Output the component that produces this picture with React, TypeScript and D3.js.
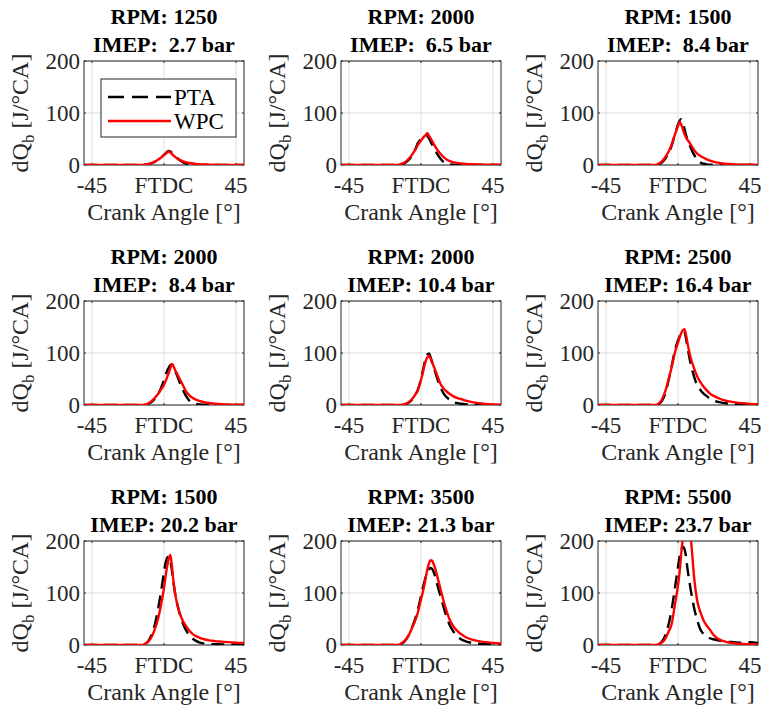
import React from "react";
import * as d3 from "d3";

// Crank angle grid shared by every trace [deg aTDC]
const CA = [-50, -40, -30, -20, -16, -14, -12, -10, -8, -6, -4, -2, 0, 1, 2, 3, 4, 5, 6, 7, 8, 9, 10, 12, 14, 16, 18, 20, 22, 25, 28, 32, 36, 40, 45, 50];

// Operating points
const RPM = [1250, 2000, 1500, 2000, 2000, 2500, 1500, 3500, 5500];
const IMEP = [2.7, 6.5, 8.4, 8.4, 10.4, 16.4, 20.2, 21.3, 23.7];

// Apparent heat release rate dQb [J/°CA], PTA (pressure trace analysis)
const PTA_1 = [0, 0, 0, 0, 0, 0, 0.5, 1.5, 3.2, 5.8, 9.5, 14, 19.5, 22.5, 25.5, 27, 26, 23.5, 20.5, 17.5, 14.5, 11.5, 9, 5, 2.5, 1.2, 0.6, 0.3, 0.2, 0.1, 0.1, 0.1, 0.1, 0.1, 0.1, 0.1];
const PTA_2 = [0, 0, 0, 0, 0, 0, 1.5, 4, 9, 16, 27, 42, 50, 54, 57, 58, 56, 51, 45, 39, 33, 27, 22, 13, 6, 2.5, 1, 0.5, 0.3, 0.2, 0.2, 0.2, 0.1, 0.1, 0.1, 0.1];
const PTA_3 = [0, 0, 0, 0, 0, 0, 1.5, 5, 12, 22, 37, 58, 78, 85, 88, 82, 70, 58, 48, 40, 33, 26, 20, 11, 5, 2.5, 1.2, 0.6, 0.4, 0.3, 0.2, 0.2, 0.1, 0.1, 0.1, 0.1];
const PTA_4 = [0, 0, 0, 0, 0, 0, 0, 2, 5, 11, 19, 32, 48, 58, 66, 72, 77, 78, 73, 66, 58, 50, 42, 28, 16, 8, 4, 2, 1, 0.6, 0.4, 0.3, 0.2, 0.2, 0.1, 0.1];
const PTA_5 = [0, 0, 0, 0, 0, 0, 0, 1.5, 4, 9, 17, 29, 50, 64, 78, 90, 97, 99, 92, 82, 72, 62, 52, 35, 23, 15, 10, 6, 4, 2.5, 1.5, 1, 0.7, 0.5, 0.3, 0.2];
const PTA_6 = [0, 0, 0, 0, 0, 0, 2, 8, 22, 46, 74, 104, 124, 132, 138, 142, 141, 128, 110, 93, 78, 66, 55, 38, 29, 22, 17, 12, 9, 6, 4, 2.8, 2, 1.5, 1.1, 0.8];
const PTA_7 = [0, 0, 0, 0, 0, 0, 2, 7, 18, 36, 64, 100, 140, 158, 168, 170, 162, 142, 118, 98, 82, 70, 58, 40, 27, 18, 12, 8, 5, 3, 2, 1.5, 1.2, 1, 0.8, 0.6];
const PTA_8 = [0, 0, 0, 0, 0, 0.3, 3, 8, 17, 31, 47, 68, 94, 108, 120, 132, 141, 146, 148, 146, 140, 130, 118, 96, 74, 54, 38, 27, 19, 11, 7, 4, 2.5, 1.8, 1.3, 1];
const PTA_9 = [0, 0, 0, 0, 0, 0, 2, 7, 18, 38, 68, 108, 150, 170, 184, 189, 185, 170, 145, 125, 105, 88, 72, 48, 30, 21, 16, 13, 11, 9, 7, 6, 5, 4.5, 5.5, 4];

// Apparent heat release rate dQb [J/°CA], WPC
const WPC_1 = [0, 0, 0, 0, 0, 0.3, 0.8, 1.8, 3.5, 6, 9.5, 14, 19, 21.5, 24, 26, 24, 21, 18, 15.5, 13, 11, 9.5, 7, 5, 3.8, 2.8, 2.1, 1.6, 1.1, 0.8, 0.5, 0.3, 0.2, 0.1, 0.1];
const WPC_2 = [0, 0, 0, 0, 0, 0.5, 2.5, 5.5, 11, 18, 27, 38, 47, 51, 55, 58, 61, 56, 51, 46, 40, 35, 30, 22, 15.5, 10.5, 7.5, 5.5, 4.2, 3, 2.2, 1.5, 1, 0.7, 0.5, 0.3];
const WPC_3 = [0, 0, 0, 0, 0, 0, 2.5, 7, 15, 25, 39, 58, 75, 83, 78, 69, 60, 53, 48, 44, 39, 34, 29, 22, 17.5, 14, 11, 8.5, 6.5, 4.5, 3, 2, 1.3, 0.8, 0.5, 0.3];
const WPC_4 = [0, 0, 0, 0, 0, 0, 0.5, 3, 7, 13, 20, 29, 39, 46, 54, 62, 71, 79, 74, 67, 61, 55, 49, 37, 25, 18, 13.5, 10.5, 8, 5.5, 3.8, 2.5, 1.6, 1, 0.6, 0.4];
const WPC_5 = [0, 0, 0, 0, 0, 0, 0, 2, 5, 10, 18, 29, 48, 60, 74, 85, 92, 95, 89, 81, 74, 66, 58, 42, 32, 26, 21, 17, 14, 11.5, 8.5, 5.5, 3.5, 2.2, 1.3, 0.8];
const WPC_6 = [0, 0, 0, 0, 0, 0, 3, 11, 26, 48, 72, 100, 120, 130, 138, 144, 146, 135, 118, 103, 90, 80, 71, 55, 44, 35, 28, 22, 18, 13.5, 10, 7, 5, 3.5, 2.2, 1.5];
const WPC_7 = [0, 0, 0, 0, 0, 0, 2, 6, 14, 28, 47, 75, 110, 132, 152, 166, 173, 150, 120, 98, 82, 70, 60, 45, 35, 27, 21, 17, 14, 11, 9, 7.5, 6.5, 5.5, 4.5, 4];
const WPC_8 = [0, 0, 0, 0, 0, 0.5, 4, 9, 17, 30, 44, 62, 88, 100, 114, 130, 146, 157, 163, 162, 155, 146, 134, 110, 86, 65, 48, 37, 29, 21, 15, 10.5, 7.5, 5.5, 4, 3];
const WPC_9 = [0, 0, 0, 0, 0, 0, 1, 5, 12, 25, 40, 76, 115, 140, 175, 205, 228, 235, 230, 222, 205, 170, 132, 85, 63, 47, 37, 29, 20, 12, 8, 4.5, 3, 2, 1.5, 1];

const PTA = [PTA_1, PTA_2, PTA_3, PTA_4, PTA_5, PTA_6, PTA_7, PTA_8, PTA_9];
const WPC = [WPC_1, WPC_2, WPC_3, WPC_4, WPC_5, WPC_6, WPC_7, WPC_8, WPC_9];

const SERIES = ["PTA", "WPC"];
const X_TICKS = [-45, 0, 45];
const X_TICK_LABELS = ["-45", "FTDC", "45"];
const Y_TICKS = [0, 100, 200];

// Layout
const W = 761;
const H = 709;
const AX_W = 160;
const AX_H = 104;
const LEFT0 = 84;
const TOP0 = 61;
const COL_STEP = 257;
const ROW_STEP = 240;

const FONT = "'Liberation Serif', 'Times New Roman', serif";
const AXIS_COLOR = "#262626";
const GRID_COLOR = "#dfdfdf";
const DASH = "13 7";
const LW = 2.4;

function Panel({ idx }: { idx: number }) {
  const col = idx % 3;
  const row = Math.floor(idx / 3);
  const left = LEFT0 + col * COL_STEP;
  const top = TOP0 + row * ROW_STEP;
  const x = d3.scaleLinear().domain([-50, 50]).range([0, AX_W]);
  const y = d3.scaleLinear().domain([0, 200]).range([AX_H, 0]);
  const line = d3
    .line<number>()
    .x((_, i) => x(CA[i]))
    .y((d) => y(d))
    .curve(d3.curveMonotoneX);
  const clipId = `clip-${idx}`;
  const imepText = `IMEP: ${IMEP[idx].toFixed(1).padStart(4, " ")} bar`;

  return (
    <g transform={`translate(${left},${top})`}>
      <defs>
        <clipPath id={clipId}>
          <rect x={0} y={0} width={AX_W} height={AX_H} />
        </clipPath>
      </defs>
      <rect x={0} y={0} width={AX_W} height={AX_H} fill="#fff" />
      {/* grid */}
      {X_TICKS.map((t) => (
        <line key={`gx${t}`} x1={x(t)} x2={x(t)} y1={0} y2={AX_H} stroke={GRID_COLOR} strokeWidth={1} />
      ))}
      {Y_TICKS.map((t) => (
        <line key={`gy${t}`} x1={0} x2={AX_W} y1={y(t)} y2={y(t)} stroke={GRID_COLOR} strokeWidth={1} />
      ))}
      {/* box and ticks */}
      <rect x={0} y={0} width={AX_W} height={AX_H} fill="none" stroke={AXIS_COLOR} strokeWidth={1} />
      {X_TICKS.map((t) => (
        <g key={`tx${t}`}>
          <line x1={x(t)} x2={x(t)} y1={AX_H} y2={AX_H - 2} stroke={AXIS_COLOR} />
          <line x1={x(t)} x2={x(t)} y1={0} y2={2} stroke={AXIS_COLOR} />
        </g>
      ))}
      {Y_TICKS.map((t) => (
        <g key={`ty${t}`}>
          <line x1={0} x2={2} y1={y(t)} y2={y(t)} stroke={AXIS_COLOR} />
          <line x1={AX_W} x2={AX_W - 2} y1={y(t)} y2={y(t)} stroke={AXIS_COLOR} />
        </g>
      ))}
      {/* traces */}
      <g clipPath={`url(#${clipId})`}>
        <path d={line(PTA[idx]) || ""} fill="none" stroke="#000" strokeWidth={LW} strokeDasharray={DASH} />
        <path d={line(WPC[idx]) || ""} fill="none" stroke="#ff0000" strokeWidth={LW} />
      </g>
      {/* tick labels */}
      {X_TICKS.map((t, i) => (
        <text key={`lx${t}`} x={x(t)} y={AX_H + 28} textAnchor="middle" fontSize={23} fill={AXIS_COLOR}>
          {X_TICK_LABELS[i]}
        </text>
      ))}
      {Y_TICKS.map((t) => (
        <text key={`ly${t}`} x={-4} y={y(t)} dy="0.34em" textAnchor="end" fontSize={23} fill={AXIS_COLOR}>
          {t}
        </text>
      ))}
      {/* axis labels */}
      <text x={AX_W / 2} y={AX_H + 55} textAnchor="middle" fontSize={24} fill={AXIS_COLOR}>
        Crank Angle [°]
      </text>
      <text
        transform={`translate(${-56},${AX_H / 2}) rotate(-90)`}
        textAnchor="middle"
        fontSize={24}
        fill={AXIS_COLOR}
      >
        dQ
        <tspan dy={6} fontSize={17}>b</tspan>
        <tspan dy={-6}> [J/°CA]</tspan>
      </text>
      {/* titles */}
      <text x={AX_W / 2} y={-37} textAnchor="middle" fontSize={22} fontWeight="bold" fill="#000">
        {`RPM: ${RPM[idx]}`}
      </text>
      <text x={AX_W / 2} y={-9} textAnchor="middle" fontSize={22} fontWeight="bold" fill="#000" style={{ whiteSpace: "pre" }}>
        {imepText}
      </text>
      {idx === 0 && <Legend />}
    </g>
  );
}

function Legend() {
  const bx = 17;
  const by = 18;
  const bw = 135;
  const bh = 58;
  return (
    <g>
      <rect x={bx} y={by} width={bw} height={bh} fill="#fff" stroke={AXIS_COLOR} strokeWidth={1} />
      {SERIES.map((name, i) => {
        const yy = by + 18 + i * 24;
        return (
          <g key={name}>
            <line
              x1={bx + 7}
              x2={bx + 70}
              y1={yy}
              y2={yy}
              stroke={i === 0 ? "#000" : "#ff0000"}
              strokeWidth={LW}
              strokeDasharray={i === 0 ? "16 8" : undefined}
            />
            <text x={bx + 73} y={yy} dy="0.34em" fontSize={23} fill="#000">
              {name}
            </text>
          </g>
        );
      })}
    </g>
  );
}

export default function App() {
  const panels = d3.range(9);
  return (
    <div style={{ position: "absolute", left: 0, top: 0 }}>
      <svg width={W} height={H} viewBox={`0 0 ${W} ${H}`} style={{ display: "block", background: "#fff", fontFamily: FONT }}>
        {panels.map((i) => (
          <Panel key={i} idx={i} />
        ))}
      </svg>
    </div>
  );
}
